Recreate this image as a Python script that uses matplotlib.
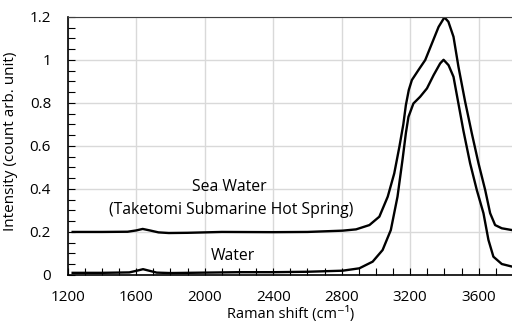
import matplotlib
matplotlib.use('Agg')
import matplotlib.pyplot as plt
from matplotlib.ticker import MultipleLocator

plt.rcParams['font.family'] = ['Open Sans', 'DejaVu Sans']

# Sea water (Taketomi submarine hot spring) spectrum
sea_shift = [1229, 1400, 1550, 1600, 1638, 1680, 1730, 1790, 1900, 2100, 2400, 2600,
             2806, 2884, 2962, 3020, 3069, 3107, 3137, 3160, 3175, 3192, 3210, 3248,
             3288, 3327, 3366, 3400, 3423, 3453, 3482, 3521, 3560, 3599, 3638, 3667,
             3696, 3735, 3800]
sea_int = [0.200, 0.200, 0.201, 0.207, 0.214, 0.207, 0.198, 0.195, 0.196, 0.200, 0.199, 0.200,
           0.206, 0.212, 0.232, 0.271, 0.364, 0.472, 0.596, 0.700, 0.790, 0.860, 0.906, 0.952,
           0.999, 1.076, 1.153, 1.197, 1.177, 1.107, 0.967, 0.805, 0.658, 0.519, 0.395, 0.287,
           0.232, 0.217, 0.208]

# Pure water spectrum
water_shift = [1229, 1400, 1560, 1610, 1640, 1675, 1720, 1800, 2000, 2200, 2400, 2600,
               2806, 2903, 2981, 3039, 3087, 3126, 3156, 3175, 3190, 3219, 3258, 3298,
               3337, 3375, 3395, 3424, 3453, 3478, 3511, 3550, 3589, 3628, 3657, 3686,
               3735, 3800]
water_int = [0.010, 0.010, 0.012, 0.021, 0.027, 0.020, 0.011, 0.009, 0.011, 0.013, 0.013, 0.015,
             0.020, 0.031, 0.062, 0.116, 0.209, 0.364, 0.540, 0.660, 0.735, 0.797, 0.828, 0.867,
             0.929, 0.983, 1.000, 0.975, 0.921, 0.813, 0.670, 0.519, 0.395, 0.287, 0.163, 0.085,
             0.051, 0.038]

fig = plt.figure(figsize=(5.12, 3.22), dpi=100)
ax = fig.add_axes([0.1322, 0.146, 0.8696, 0.802])

ax.plot(sea_shift, sea_int, color='black', linewidth=1.7, solid_joinstyle='round')
ax.plot(water_shift, water_int, color='black', linewidth=1.7, solid_joinstyle='round')

ax.set_xlim(1200, 3800)
ax.set_ylim(0, 1.2)
ax.xaxis.set_major_locator(MultipleLocator(400))
ax.xaxis.set_minor_locator(MultipleLocator(100))
ax.yaxis.set_minor_locator(MultipleLocator(0.05))
ax.set_yticks([0, 0.2, 0.4, 0.6, 0.8, 1.0, 1.2])
ax.set_yticklabels(['0', '0.2', '0.4', '0.6', '0.8', '1', '1.2'])

ax.tick_params(which='both', direction='in', length=5, width=0.8, labelsize=11)
ax.tick_params(axis='x', which='major', pad=11)
ax.tick_params(axis='y', which='major', pad=12)
ax.grid(True, which='major', color='#d9d9d9', linewidth=1)
ax.set_axisbelow(True)

ax.spines['right'].set_visible(False)
ax.spines['top'].set_color('#404040')
for s in ['left', 'bottom']:
    ax.spines[s].set_linewidth(1.2)

ax.text(2145, 0.41, 'Sea Water', ha='center', va='center', fontsize=11.3)
ax.text(2155, 0.30, '(Taketomi Submarine Hot Spring)', ha='center', va='center', fontsize=11.3)
ax.text(2165, 0.088, 'Water', ha='center', va='center', fontsize=11.3)

ax.set_xlabel('Raman shift (cm⁻¹)', fontsize=10.5)
ax.xaxis.set_label_coords(0.5, -0.122)
ax.set_ylabel('Intensity (count arb. unit)', fontsize=11)
ax.yaxis.set_label_coords(-0.112, 0.516)

fig.savefig('out.png', dpi=100)
